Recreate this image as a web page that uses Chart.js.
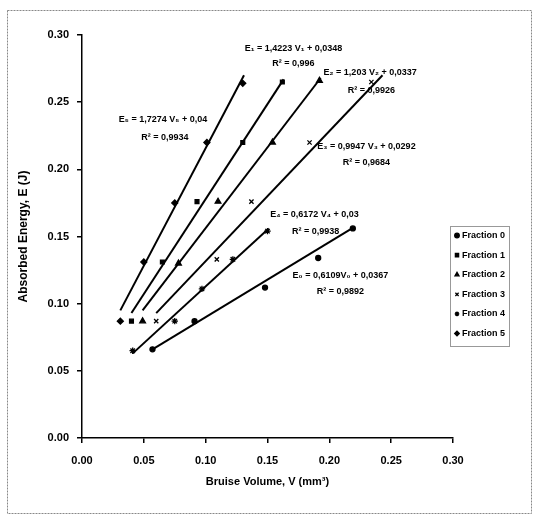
<!DOCTYPE html>
<html>
<head>
<meta charset="utf-8">
<script src="https://cdn.jsdelivr.net/npm/chart.js@4"></script>
<style>
  html, body { margin: 0; padding: 0; background: #fff; }
  #wrap { width: 536px; height: 518px; }
</style>
</head>
<body>
<div id="wrap"><canvas id="chart"></canvas></div>
<script>
// series labels
const fractions = ['Fraction 0', 'Fraction 1', 'Fraction 2', 'Fraction 3', 'Fraction 4', 'Fraction 5'];
const markers = ['circle', 'rect', 'triangle', 'crossRot', 'star', 'rectRot'];

// measured points (bruise volume V, absorbed energy E)
const f0V = [0.091, 0.057, 0.148, 0.191, 0.219];
const f0E = [0.087, 0.066, 0.112, 0.134, 0.156];
const f1V = [0.040, 0.065, 0.093, 0.130, 0.162];
const f1E = [0.087, 0.131, 0.176, 0.220, 0.265];
const f2V = [0.049, 0.078, 0.110, 0.154, 0.192];
const f2E = [0.087, 0.130, 0.176, 0.220, 0.266];
const f3V = [0.060, 0.109, 0.137, 0.184, 0.234];
const f3E = [0.087, 0.133, 0.176, 0.220, 0.265];
const f4V = [0.075, 0.041, 0.097, 0.122, 0.150];
const f4E = [0.087, 0.065, 0.111, 0.133, 0.154];
const f5V = [0.031, 0.050, 0.075, 0.101, 0.130];
const f5E = [0.087, 0.131, 0.175, 0.220, 0.264];

// trend line ends
const fit0V = [0.057, 0.220], fit0E = [0.066, 0.157];
const fit1V = [0.040, 0.163], fit1E = [0.093, 0.267];
const fit2V = [0.049, 0.193], fit2E = [0.095, 0.268];
const fit3V = [0.060, 0.243], fit3E = [0.093, 0.270];
const fit4V = [0.041, 0.151], fit4E = [0.063, 0.156];
const fit5V = [0.031, 0.131], fit5E = [0.095, 0.270];

// equation labels and where they sit (data coords, text centre)
const eqText = [
  'E\u2085 = 1,7274 V\u2085 + 0,04', 'R\u00b2 = 0,9934',
  'E\u2081 = 1,4223 V\u2081 + 0,0348', 'R\u00b2 = 0,996',
  'E\u2082 = 1,203 V\u2082 + 0,0337', 'R\u00b2 = 0,9926',
  'E\u2083 = 0,9947 V\u2083 + 0,0292', 'R\u00b2 = 0,9684',
  'E\u2084 = 0,6172 V\u2084 + 0,03', 'R\u00b2 = 0,9938',
  'E\u2080 = 0,6109V\u2080 + 0,0367', 'R\u00b2 = 0,9892'
];
const eqV = [0.0655, 0.067, 0.171, 0.171, 0.233, 0.234, 0.230, 0.230, 0.188, 0.189, 0.209, 0.209];
const eqE = [0.237, 0.224, 0.290, 0.279, 0.272, 0.259, 0.217, 0.205, 0.166, 0.154, 0.121, 0.109];

const xTicks = [0, 0.05, 0.10, 0.15, 0.20, 0.25, 0.30];
const yTicks = [0, 0.05, 0.10, 0.15, 0.20, 0.25, 0.30];

const pointsV = [f0V, f1V, f2V, f3V, f4V, f5V];
const pointsE = [f0E, f1E, f2E, f3E, f4E, f5E];
const fitsV = [fit0V, fit1V, fit2V, fit3V, fit4V, fit5V];
const fitsE = [fit0E, fit1E, fit2E, fit3E, fit4E, fit5E];

const pair = (vs, es) => vs.map((v, i) => ({x: v, y: es[i]}));
const markerSize = {circle: 2.5, rect: 2.7, triangle: 3.3, crossRot: 3, star: 3.2, rectRot: 3};

let datasets = [];
fractions.forEach((name, i) => {
  datasets.push({
    label: name,
    data: pair(pointsV[i], pointsE[i]),
    pointStyle: markers[i],
    pointRadius: markerSize[markers[i]],
    borderColor: '#000',
    backgroundColor: '#000',
    borderWidth: 1.3,
    showLine: false
  });
});
fractions.forEach((name, i) => {
  datasets.push({
    label: 'fit ' + i,
    data: pair(fitsV[i], fitsE[i]),
    borderColor: '#000',
    borderWidth: 2,
    pointRadius: 0,
    showLine: true
  });
});

const labelFont = "'Liberation Sans Narrow', 'Liberation Sans', Arial, sans-serif";

// frame, equations and the boxed legend
const decor = {
  id: 'decor',
  beforeDraw(chart) {
    const c = chart.ctx;
    c.save();
    c.fillStyle = '#fff';
    c.fillRect(0, 0, chart.width, chart.height);
    c.strokeStyle = '#888';
    c.lineWidth = 1;
    c.setLineDash([2, 1]);
    c.strokeRect(7.5, 10.5, 524, 503);
    c.restore();
  },
  afterDraw(chart) {
    const c = chart.ctx;
    const xs = chart.scales.x, ys = chart.scales.y;
    c.save();
    c.fillStyle = '#000';
    c.textAlign = 'center';
    c.textBaseline = 'middle';
    c.font = 'bold 9px ' + labelFont;
    eqText.forEach((t, i) => {
      c.fillText(t, xs.getPixelForValue(eqV[i]), ys.getPixelForValue(eqE[i]));
    });

    // legend
    const lx = 450, ly = 226, lw = 59, lh = 120;
    c.strokeStyle = '#333';
    c.lineWidth = 1;
    c.setLineDash([1, 1]);
    c.strokeRect(lx + 0.5, ly + 0.5, lw, lh);
    c.setLineDash([]);
    c.textAlign = 'left';
    fractions.forEach((name, i) => {
      const y = ly + 9.5 + i * 19.6;
      c.fillStyle = '#000';
      c.strokeStyle = '#000';
      c.lineWidth = 1.3;
      Chart.helpers.drawPoint(c, {pointStyle: markers[i], radius: 2.3, rotation: 0, borderWidth: 1.3}, lx + 7, y);
      c.fillText(name, lx + 12, y);
    });
    c.restore();
  }
};

new Chart(document.getElementById('chart'), {
  type: 'scatter',
  data: {datasets: datasets},
  options: {
    animation: false,
    responsive: true,
    maintainAspectRatio: false,
    layout: {padding: {left: 12, top: 35, right: 83, bottom: 26}},
    plugins: {
      legend: {display: false},
      tooltip: {enabled: false}
    },
    scales: {
      x: {
        type: 'linear',
        min: 0,
        max: 0.3,
        afterBuildTicks: s => { s.ticks = xTicks.map(v => ({value: v})); },
        afterFit: s => { s.height = 54; },
        border: {color: '#000', width: 1.5},
        grid: {drawOnChartArea: false, drawTicks: true, tickLength: 5, color: '#000', lineWidth: 1.5},
        ticks: {
          color: '#000',
          padding: 11,
          font: {family: 'Liberation Sans, Arial', size: 11, weight: 'bold'},
          callback: v => v.toFixed(2),
          maxRotation: 0
        },
        title: {
          display: true,
          text: 'Bruise Volume, V (mm\u00b3)',
          color: '#000',
          padding: {top: 0, bottom: 3},
          font: {family: 'Liberation Sans, Arial', size: 11, weight: 'bold'}
        }
      },
      y: {
        type: 'linear',
        min: 0,
        max: 0.3,
        afterBuildTicks: s => { s.ticks = yTicks.map(v => ({value: v})); },
        afterFit: s => { s.width = 70; },
        border: {color: '#000', width: 1.5},
        grid: {drawOnChartArea: false, drawTicks: true, tickLength: 5, color: '#000', lineWidth: 1.5},
        ticks: {
          color: '#000',
          padding: 8,
          font: {family: 'Liberation Sans, Arial', size: 11, weight: 'bold'},
          callback: v => v.toFixed(2)
        },
        title: {
          display: true,
          text: 'Absorbed Energy, E (J)',
          color: '#000',
          padding: {top: 4, bottom: 0},
          font: {family: 'Liberation Sans, Arial', size: 12, weight: 'bold'}
        }
      }
    }
  },
  plugins: [decor]
});
</script>
</body>
</html>
